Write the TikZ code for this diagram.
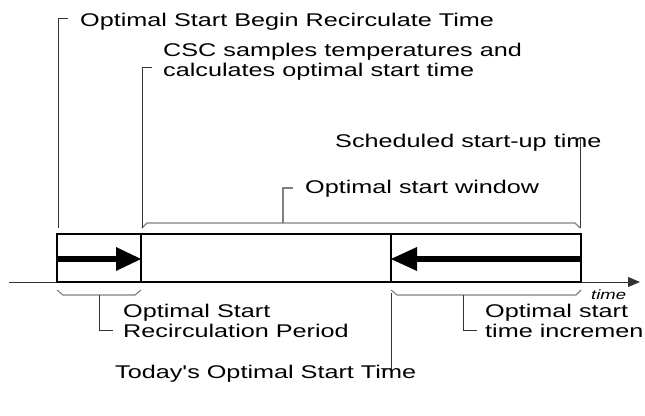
\documentclass[tikz,border=0pt]{standalone}
\usepackage{fontspec}
\setmainfont{Liberation Sans}[FakeStretch=1.37,Ligatures=TeXOff]
\usetikzlibrary{arrows.meta}
\begin{document}
\begin{tikzpicture}[x=1pt,y=-1pt,
  lbl/.style={anchor=base west,inner sep=0pt,font=\fontsize{18.4}{20}\selectfont,align=left},
  timelbl/.style={anchor=base west,inner sep=0pt,font=\fontsize{13.5}{15}\selectfont\itshape},
  boxline/.style={line width=2.2pt,black},
  axisline/.style={line width=0.9pt,black!80,-{Triangle[length=12pt,width=10pt]}},
  bracket/.style={line width=1.1pt,black!50},
  pointer/.style={line width=0.9pt,black!80},
  shaft/.style={line width=5.5pt,black},
  head/.style={fill=black}]
\useasboundingbox (0,0) rectangle (645,415);

% timeline box and cells
\coordinate (tl) at (57,234);
\coordinate (br) at (581,282);
\coordinate (d1t) at (141,234); \coordinate (d1b) at (141,282);
\coordinate (d2t) at (391,234); \coordinate (d2b) at (391,282);
\coordinate (axs) at (9,282);
\coordinate (axe) at (640,282);
\draw[axisline] (axs) -- (axe);
\draw[boxline] (tl) rectangle (br);
\draw[boxline] (d1t) -- (d1b);
\draw[boxline] (d2t) -- (d2b);

% recirculation arrow (left cell) and increment arrow (right cell)
\coordinate (ra0) at (57,259);
\coordinate (ra1) at (118,259);
\draw[shaft] (ra0) -- (ra1);
\fill[head] (116,247) -- (141,259) -- (116,271) -- cycle;
\coordinate (ia0) at (581,259);
\coordinate (ia1) at (415,259);
\draw[shaft] (ia0) -- (ia1);
\fill[head] (417,247) -- (391,259) -- (417,271) -- cycle;

\node[timelbl] (timelabel) at (591,299) {time};

% labels above the timeline
\node[lbl] (begin) at (80,27) {Optimal Start Begin Recirculate Time};
\node[lbl] (csc) at (163,76) {CSC samples temperatures and\\calculates optimal start time};
\node[lbl] (sched) at (335,147) {Scheduled start-up time};
\node[lbl] (window) at (305,193) {Optimal start window};

% labels below the timeline
\node[lbl] (recirc) at (123,337) {Optimal Start\\Recirculation Period};
\node[lbl] (incr) at (485,337) {Optimal start\\time incremen};
\node[lbl] (today) at (115,378) {Today's Optimal Start Time};

% pointer to the begin-recirculate instant
\coordinate (b0) at (68,18); \coordinate (b1) at (58,18); \coordinate (b2) at (58,228);
\draw[pointer] (b0) -- (b1) -- (b2);

% optimal start window bracket with its pointers
\coordinate (w0) at (142,228); \coordinate (w1) at (147,223);
\coordinate (w2) at (575,223); \coordinate (w3) at (580,228);
\draw[bracket] (w0) -- (w1) -- (w2) -- (w3);
\coordinate (c0) at (152,67); \coordinate (c1) at (142,67);
\draw[pointer] (c0) -- (c1) -- (w0);
\coordinate (s1) at (580,138); \coordinate (s0) at (572,138);
\draw[pointer] (w3) -- (s1) -- (s0);
\coordinate (wm) at (283,223); \coordinate (wp) at (283,188); \coordinate (wt) at (293,188);
\draw[bracket] (wm) -- (wp) -- (wt);

% recirculation period bracket
\coordinate (r0) at (57,290); \coordinate (r1) at (63,295);
\coordinate (r2) at (135,295); \coordinate (r3) at (141,290);
\draw[bracket] (r0) -- (r1) -- (r2) -- (r3);
\coordinate (rm) at (99,295); \coordinate (rp) at (99,330); \coordinate (rt) at (113,330);
\draw[pointer] (rm) -- (rp) -- (rt);

% start time increment bracket
\coordinate (i0) at (391,290); \coordinate (i1) at (397,295);
\coordinate (i2) at (576,295); \coordinate (i3) at (581,290);
\draw[bracket] (i0) -- (i1) -- (i2) -- (i3);
\coordinate (im) at (463,295); \coordinate (ip) at (463,330); \coordinate (it) at (477,330);
\draw[pointer] (im) -- (ip) -- (it);

% pointer to today's optimal start time
\coordinate (t0) at (391,293); \coordinate (t1) at (391,368); \coordinate (t2) at (381,368);
\draw[pointer] (t0) -- (t1) -- (t2);
\end{tikzpicture}
\end{document}
